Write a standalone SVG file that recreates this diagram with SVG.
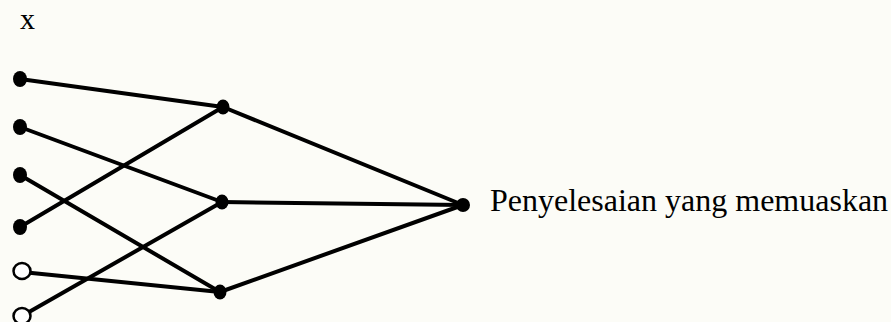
<svg xmlns="http://www.w3.org/2000/svg" width="891" height="322" viewBox="0 0 891 322">
<style>
.bg{fill:#fcfcf7}
.edge{stroke:#000;stroke-width:4;fill:none;stroke-linecap:round}
.dot{fill:#000}
.open{fill:#fff;stroke:#000;stroke-width:2.5}
.lbl{font-family:"Liberation Serif","Times New Roman",serif;fill:#000}
</style>
<rect class="bg" x="0" y="0" width="891" height="322"/>
<text class="lbl" x="20" y="29" font-size="30">x</text>
<g id="connectors">
<line class="edge" x1="20" y1="79" x2="223" y2="107"/>
<line class="edge" x1="20" y1="127" x2="222" y2="202"/>
<line class="edge" x1="20" y1="175" x2="220" y2="292"/>
<line class="edge" x1="20" y1="227" x2="223" y2="107"/>
<line class="edge" x1="22" y1="272" x2="220" y2="292"/>
<line class="edge" x1="22" y1="316" x2="222" y2="202"/>
<line class="edge" x1="223" y1="107" x2="463" y2="205"/>
<line class="edge" x1="222" y1="202" x2="463" y2="205"/>
<line class="edge" x1="220" y1="292" x2="463" y2="205"/>
</g>
<g id="x1"><ellipse class="dot" cx="20" cy="79" rx="7" ry="8"/></g>
<g id="x2"><ellipse class="dot" cx="20" cy="127" rx="7" ry="8"/></g>
<g id="x3"><ellipse class="dot" cx="20" cy="175" rx="7" ry="8"/></g>
<g id="x4"><ellipse class="dot" cx="20" cy="227" rx="7" ry="8"/></g>
<g id="x5"><ellipse class="open" cx="22" cy="271" rx="8.5" ry="8"/></g>
<g id="x6"><ellipse class="open" cx="22" cy="316" rx="8.5" ry="8"/></g>
<g id="m1"><ellipse class="dot" cx="223" cy="107" rx="6.5" ry="7.5"/></g>
<g id="m2"><ellipse class="dot" cx="222" cy="202" rx="6.5" ry="7.5"/></g>
<g id="m3"><ellipse class="dot" cx="220" cy="292" rx="6.5" ry="7.5"/></g>
<g id="result">
<ellipse class="dot" cx="463" cy="205" rx="7" ry="7"/>
<text class="lbl" x="490" y="211" font-size="32">Penyelesaian yang memuaskan</text>
</g>
</svg>
